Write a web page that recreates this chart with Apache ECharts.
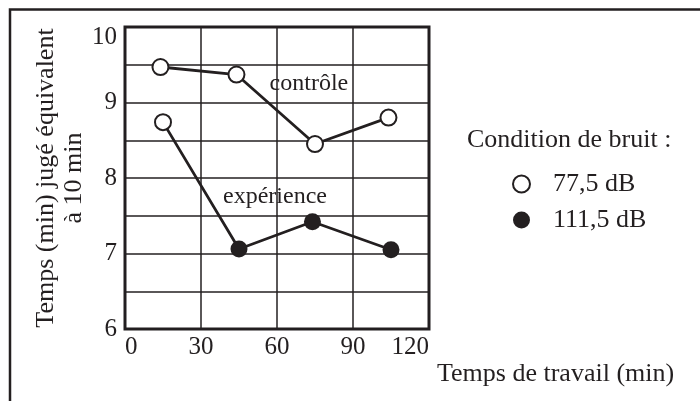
<!DOCTYPE html>
<html>
<head>
<meta charset="utf-8">
<script src="https://cdn.jsdelivr.net/npm/echarts@6/dist/echarts.min.js"></script>
<style>
  html, body { margin: 0; padding: 0; background: #fff; }
  #chart { width: 700px; height: 401px; }
</style>
</head>
<body>
<div id="chart"></div>
<script>
// Working time (min) at each measurement
const controlTime = [14, 44, 75, 104];
const experimentTime = [15, 45, 74, 105];
// Judged duration (min) equivalent to 10 min
const controlJudged = [9.47, 9.37, 8.45, 8.80];
const experimentJudged = [8.74, 7.06, 7.42, 7.05];
// Noise condition at each measurement
const controlNoise = ['77,5 dB', '77,5 dB', '77,5 dB', '77,5 dB'];
const experimentNoise = ['77,5 dB', '111,5 dB', '111,5 dB', '111,5 dB'];
const noiseLevels = ['77,5 dB', '111,5 dB'];
// Axis ticks
const xTicks = [0, 30, 60, 90, 120];
const yTicks = [6, 7, 8, 9, 10];
// Group annotations placed in data space
const groupLabels = [
  { name: 'contrôle', value: [72.6, 9.245] },
  { name: 'expérience', value: [59.2, 7.75] }
];

const INK = '#231f20';
const FONT = '"Liberation Serif", "Times New Roman", serif';

const zip = (xs, ys) => xs.map((x, i) => [x, ys[i]]);

function pointsFor(level) {
  const pts = [];
  controlTime.forEach((t, i) => { if (controlNoise[i] === level) pts.push([t, controlJudged[i]]); });
  experimentTime.forEach((t, i) => { if (experimentNoise[i] === level) pts.push([t, experimentJudged[i]]); });
  return pts;
}

const chart = echarts.init(document.getElementById('chart'), null, { renderer: 'canvas' });

chart.setOption({
  animation: false,
  backgroundColor: '#fff',
  textStyle: { fontFamily: FONT, color: INK },
  grid: {
    left: 125, top: 27, right: 271, bottom: 72,
    show: true, borderColor: INK, borderWidth: 3, backgroundColor: 'transparent'
  },
  xAxis: {
    type: 'value',
    min: xTicks[0], max: xTicks[xTicks.length - 1], interval: 30,
    axisLine: { show: false },
    axisTick: { show: false },
    splitLine: { show: true, lineStyle: { color: INK, width: 1.5 } },
    axisLabel: {
      fontSize: 25, color: INK, fontFamily: FONT, margin: 6,
      alignMinLabel: 'left', alignMaxLabel: 'right'
    },
    name: 'Temps de travail (min)',
    nameLocation: 'end',
    nameGap: 8,
    nameTextStyle: { fontSize: 26, color: INK, fontFamily: FONT, align: 'left', verticalAlign: 'top', padding: [32, 0, 0, 0] }
  },
  yAxis: {
    type: 'value',
    min: yTicks[0], max: yTicks[yTicks.length - 1], interval: 0.5,
    axisLine: { show: false },
    axisTick: { show: false },
    splitLine: { show: true, lineStyle: { color: INK, width: 1.5 } },
    axisLabel: {
      fontSize: 25, color: INK, fontFamily: FONT, margin: 8, lineHeight: 20,
      verticalAlignMaxLabel: 'top',
      formatter: v => (yTicks.indexOf(v) >= 0 ? String(v) : '')
    },
    name: 'Temps (min) jugé équivalent\nà 10 min',
    nameLocation: 'middle',
    nameRotate: 90,
    nameGap: 37,
    nameTextStyle: { fontSize: 26, color: INK, fontFamily: FONT, lineHeight: 28, align: 'center' }
  },
  legend: {
    data: noiseLevels,
    orient: 'vertical',
    left: 507, top: 166,
    itemWidth: 17, itemHeight: 17, itemGap: 10,
    textStyle: { fontSize: 26, color: INK, fontFamily: FONT, padding: [0, 0, 0, 18] },
    selectedMode: false
  },
  graphic: [
    {
      type: 'rect', silent: true, z: 100,
      shape: { x: 10, y: 9.5, width: 900, height: 600 },
      style: { fill: 'none', stroke: INK, lineWidth: 2.5 }
    },
    {
      type: 'text', silent: true,
      x: 467, y: 140,
      style: { text: 'Condition de bruit :', fontSize: 26, fontFamily: FONT, fill: INK, verticalAlign: 'middle' }
    }
  ],
  series: [
    {
      name: 'contrôle', type: 'line', data: zip(controlTime, controlJudged),
      symbol: 'none', lineStyle: { color: INK, width: 2.8 }, z: 2
    },
    {
      name: 'expérience', type: 'line', data: zip(experimentTime, experimentJudged),
      symbol: 'none', lineStyle: { color: INK, width: 2.8 }, z: 2
    },
    {
      name: noiseLevels[0], type: 'scatter', data: pointsFor(noiseLevels[0]),
      symbol: 'circle', symbolSize: 16,
      itemStyle: { color: '#fff', borderColor: INK, borderWidth: 2, opacity: 1 }, z: 3
    },
    {
      name: noiseLevels[1], type: 'scatter', data: pointsFor(noiseLevels[1]),
      symbol: 'circle', symbolSize: 17,
      itemStyle: { color: INK, borderColor: INK, borderWidth: 0, opacity: 1 }, z: 3
    },
    {
      name: 'annotations', type: 'scatter', data: groupLabels,
      symbolSize: 0, silent: true, z: 4,
      label: {
        show: true, position: 'inside', formatter: p => p.name,
        fontSize: 24, color: INK, fontFamily: FONT,
        textBorderWidth: 0, textBorderColor: 'transparent', opacity: 1
      }
    }
  ]
});
</script>
</body>
</html>
